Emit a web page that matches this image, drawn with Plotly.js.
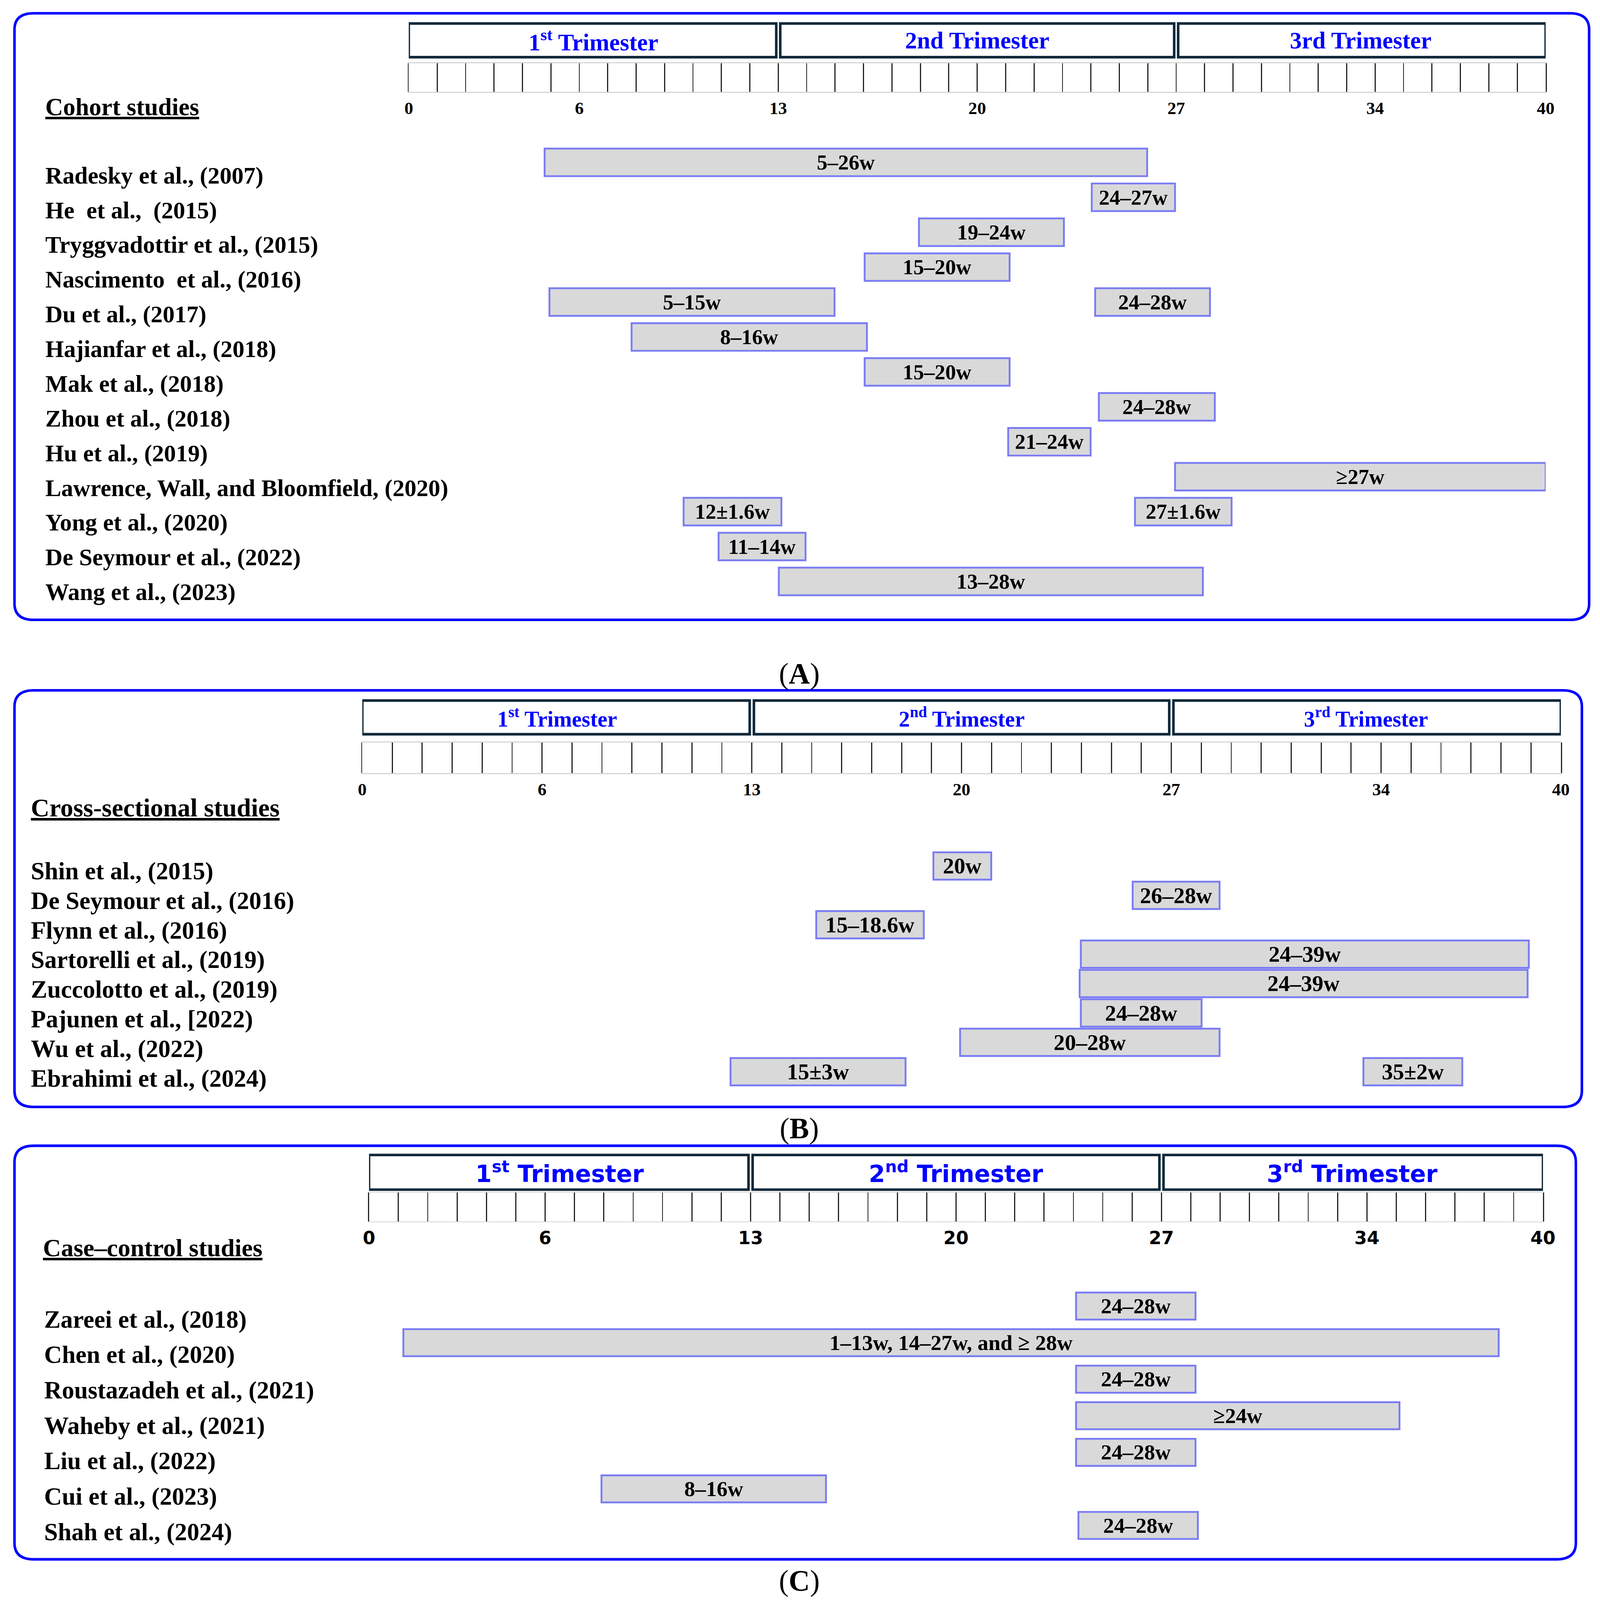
<!DOCTYPE html>
<html>
<head>
<meta charset="utf-8">
<script src="https://cdn.plot.ly/plotly-3.0.1.min.js"></script>
<style>html,body{margin:0;padding:0;background:#fff;overflow:hidden;}#chart{position:absolute;left:0;top:0;}</style>
</head>
<body>
<div id="chart"></div>
<script>
// ---------------- DATA ----------------
const TICK_VALS = [0, 6, 13, 20, 27, 34, 40];
const TICK_TEXT = ['0', '6', '13', '20', '27', '34', '40'];
const TRI_START = [0, 13, 27];
const TRI_END = [13, 27, 40];
const TRI_A = ['1<sup>st</sup> Trimester', '2nd Trimester', '3rd Trimester'];
const TRI_B = ['1<sup>st</sup> Trimester', '2<sup>nd</sup> Trimester', '3<sup>rd</sup> Trimester'];
const TRI_C = ['1<sup>st</sup> Trimester', '2<sup>nd</sup> Trimester', '3<sup>rd</sup> Trimester'];

// Panel A – cohort studies
const A_STUDIES = ['Radesky et al., (2007)', 'He\u00a0 et al.,\u00a0 (2015)', 'Tryggvadottir et al., (2015)',
  'Nascimento\u00a0 et al., (2016)', 'Du et al., (2017)', 'Hajianfar et al., (2018)', 'Mak et al., (2018)',
  'Zhou et al., (2018)', 'Hu et al., (2019)', 'Lawrence, Wall, and Bloomfield, (2020)', 'Yong et al., (2020)',
  'De Seymour et al., (2022)', 'Wang et al., (2023)'];
const A_ROW   = [0, 1, 2, 3, 4, 4, 5, 6, 7, 8, 9, 10, 10, 11, 12];
const A_START = [4.78, 24.03, 17.95, 16.04, 4.95, 24.15, 7.84, 16.04, 24.28, 21.09, 26.96, 9.67, 25.55, 10.9, 13.02];
const A_END   = [25.98, 26.96, 23.05, 21.14, 14.98, 28.19, 16.12, 21.14, 28.36, 23.99, 40.0, 13.11, 28.95, 13.96, 27.94];
const A_LABEL = ['5–26w', '24–27w', '19–24w', '15–20w', '5–15w', '24–28w', '8–16w', '15–20w', '24–28w', '21–24w',
  '≥27w', '12±1.6w', '27±1.6w', '11–14w', '13–28w'];

// Panel B – cross-sectional studies
const B_STUDIES = ['Shin et al., (2015)', 'De Seymour et al., (2016)', 'Flynn et al., (2016)', 'Sartorelli et al., (2019)',
  'Zuccolotto et al., (2019)', 'Pajunen et al., [2022)', 'Wu et al., (2022)', 'Ebrahimi et al., (2024)'];
const B_ROW   = [0, 1, 2, 3, 4, 5, 6, 7, 7];
const B_START = [19.06, 25.71, 15.15, 23.98, 23.94, 23.98, 19.95, 12.29, 33.41];
const B_END   = [20.99, 28.61, 18.74, 38.93, 38.89, 28.01, 28.61, 18.13, 36.71];
const B_LABEL = ['20w', '26–28w', '15–18.6w', '24–39w', '24–39w', '24–28w', '20–28w', '15±3w', '35±2w'];

// Panel C – case–control studies
const C_STUDIES = ['Zareei et al., (2018)', 'Chen et al., (2020)', 'Roustazadeh et al., (2021)', 'Waheby et al., (2021)',
  'Liu et al., (2022)', 'Cui et al., (2023)', 'Shah et al., (2024)'];
const C_ROW   = [0, 1, 2, 3, 4, 5, 6];
const C_START = [24.09, 1.17, 24.09, 24.09, 24.09, 7.92, 24.17];
const C_END   = [28.16, 38.49, 28.16, 35.11, 28.16, 15.57, 28.24];
const C_LABEL = ['24–28w', '1–13w, 14–27w, and ≥ 28w', '24–28w', '≥24w', '24–28w', '8–16w', '24–28w'];

// ---------------- LAYOUT HELPERS ----------------
const W = window.innerWidth || 4356, H = window.innerHeight || 5151;
const F = W / 4356;            // font / line scale
const DW = 1325, DH = 1325 * 5151 / 4356;   // reference units
const px = v => v / DW;
const py = v => 1 - v / DH;
const z = v => v * F;

const SERIF = 'Liberation Serif, DejaVu Serif, serif';
const SANS = 'DejaVu Sans, Verdana, sans-serif';
const BLUE = '#0000ff';
const NAVY = '#10293a';

const panels = [
  {id: 'A', studies: A_STUDIES, row: A_ROW, start: A_START, end: A_END, label: A_LABEL, tri: TRI_A,
   xdom: [338.5, 1280], ruler: [62, 90], bars: [141.9, 586.5], barW: 0.79,
   triY: [23, 56], triFont: {family: SERIF, size: 65, color: BLUE, weight: 'bold'},
   tickFont: {family: SERIF, size: 48, color: '#000', weight: 'bold'}, standoff: 9,
   labX: 37, labTop: 172, labStep: 34.0, labFont: 65, barFont: 58,
   heading: 'Cohort studies', headX: 37, headY: 105, headSize: 67,
   box: [12, 13, 1316, 607], cap: 'A', capY: 660},
  {id: 'B', studies: B_STUDIES, row: B_ROW, start: B_START, end: B_END, label: B_LABEL, tri: TRI_B,
   xdom: [300, 1292.6], ruler: [727, 757], bars: [833.6, 1063.9], barW: 0.93,
   triY: [686, 719], triFont: {family: SERIF, size: 60, color: BLUE, weight: 'bold'},
   tickFont: {family: SERIF, size: 48, color: '#000', weight: 'bold'}, standoff: 9,
   labX: 25, labTop: 853, labStep: 29.0, labFont: 67, barFont: 61,
   heading: 'Cross-sectional studies', headX: 25, headY: 791, headSize: 70,
   box: [12, 676, 1310, 1084], cap: 'B', capY: 1105},
  {id: 'C', studies: C_STUDIES, row: C_ROW, start: C_START, end: C_END, label: C_LABEL, tri: TRI_C,
   xdom: [305.6, 1277.8], ruler: [1168, 1196], bars: [1261.1, 1511.7], barW: 0.74,
   triY: [1131, 1165], triFont: {family: SANS, size: 64, color: BLUE, weight: 'bold'},
   tickFont: {family: SANS, size: 49, color: '#000', weight: 'bold'}, standoff: 44,
   labX: 36, labTop: 1292, labStep: 34.7, labFont: 67, barFont: 59,
   heading: 'Case–control studies', headX: 35, headY: 1222, headSize: 68,
   box: [12, 1122, 1305, 1527], cap: 'C', capY: 1548}
];

const data = [];
const layout = {
  width: W, height: H, margin: {l: 0, r: 0, t: 0, b: 0},
  paper_bgcolor: '#fff', plot_bgcolor: 'rgba(0,0,0,0)',
  showlegend: false, annotations: [], shapes: [],
  font: {family: SERIF, color: '#000'}
};

const sized = f => Object.assign({}, f, {size: z(f.size)});

panels.forEach((p, k) => {
  const rn = 2 * k + 1, bn = 2 * k + 2;
  const rx = rn === 1 ? 'x' : 'x' + rn, ry = rn === 1 ? 'y' : 'y' + rn;
  const bx = 'x' + bn, by = 'y' + bn;
  const nRows = p.studies.length;

  // ruler subplot (weekly scale)
  layout[rn === 1 ? 'xaxis' : 'xaxis' + rn] = {
    domain: [px(p.xdom[0]), px(p.xdom[1])], range: [0, 40], anchor: ry,
    tickmode: 'array', tickvals: TICK_VALS, ticktext: TICK_TEXT, ticks: '',
    showgrid: true, gridcolor: '#222', gridwidth: z(3),
    minor: {tickmode: 'linear', tick0: 0, dtick: 1, showgrid: true, gridcolor: '#222', gridwidth: z(3), ticks: ''},
    showline: true, linecolor: '#d6d6d6', linewidth: z(3), mirror: true, zeroline: false,
    tickfont: sized(p.tickFont), ticklabelstandoff: z(p.standoff), fixedrange: true
  };
  layout[rn === 1 ? 'yaxis' : 'yaxis' + rn] = {
    domain: [py(p.ruler[1]), py(p.ruler[0])], range: [0, 1], anchor: rx,
    showline: true, linecolor: '#222', linewidth: z(3), mirror: true,
    showgrid: false, zeroline: false, showticklabels: false, ticks: '', fixedrange: true
  };
  data.push({type: 'scatter', x: TICK_VALS, y: TICK_VALS.map(() => 0.5), mode: 'markers',
    marker: {opacity: 0}, xaxis: rx, yaxis: ry, hoverinfo: 'skip'});

  // bars subplot
  layout['xaxis' + bn] = {domain: [px(p.xdom[0]), px(p.xdom[1])], range: [0, 40], anchor: by, visible: false, fixedrange: true};
  layout['yaxis' + bn] = {domain: [py(p.bars[1]), py(p.bars[0])], range: [nRows - 0.5, -0.5], anchor: bx, visible: false, fixedrange: true};
  data.push({
    type: 'bar', orientation: 'h', xaxis: bx, yaxis: by,
    y: p.row, base: p.start, x: p.end.map((e, i) => e - p.start[i]),
    width: p.barW, text: p.label, textposition: 'inside', insidetextanchor: 'middle',
    textangle: 0, constraintext: 'none', cliponaxis: false,
    textfont: {family: SERIF, size: z(p.barFont), color: '#000', weight: 'bold'},
    marker: {color: '#d9d9d9', line: {color: '#7a7cf4', width: z(5)}},
    hoverinfo: 'skip'
  });

  // trimester boxes + titles
  TRI_START.forEach((s, i) => {
    const g = 0.07;
    layout.shapes.push({type: 'rect', xref: rx, yref: 'paper', x0: s + (i ? g : 0), x1: TRI_END[i] - (i < 2 ? g : 0),
      y0: py(p.triY[1]), y1: py(p.triY[0]), line: {color: NAVY, width: z(7)}, fillcolor: 'rgba(0,0,0,0)'});
    layout.annotations.push({xref: rx, yref: 'paper', x: (s + TRI_END[i]) / 2, y: py((p.triY[0] + p.triY[1]) / 2),
      xanchor: 'center', yanchor: 'middle', showarrow: false, text: p.tri[i], font: sized(p.triFont)});
  });

  // study labels
  p.studies.forEach((s, i) => {
    layout.annotations.push({xref: 'paper', yref: 'paper', x: px(p.labX), y: py(p.labTop + i * p.labStep),
      xanchor: 'left', yanchor: 'middle', showarrow: false, text: s,
      font: {family: SERIF, size: z(p.labFont), color: '#000', weight: 'bold'}});
  });

  // heading
  layout.annotations.push({xref: 'paper', yref: 'paper', x: px(p.headX), y: py(p.headY),
    xanchor: 'left', yanchor: 'middle', showarrow: false, text: p.heading,
    font: {family: SERIF, size: z(p.headSize), color: '#000', weight: 'bold', lineposition: 'under'}});

  // caption
  layout.annotations.push({xref: 'paper', yref: 'paper', x: px(662), y: py(p.capY),
    xanchor: 'center', yanchor: 'middle', showarrow: false, text: '(<b>' + p.cap + '</b>)',
    font: {family: SERIF, size: z(80), color: '#000'}});

  // rounded panel frame
  const x0 = px(p.box[0]), x1 = px(p.box[2]), yT = py(p.box[1]), yB = py(p.box[3]);
  const rX = px(16), rY = 16 / DH;
  const path = `M ${x0 + rX},${yT} L ${x1 - rX},${yT} Q ${x1},${yT} ${x1},${yT - rY} L ${x1},${yB + rY} ` +
    `Q ${x1},${yB} ${x1 - rX},${yB} L ${x0 + rX},${yB} Q ${x0},${yB} ${x0},${yB + rY} L ${x0},${yT - rY} ` +
    `Q ${x0},${yT} ${x0 + rX},${yT} Z`;
  layout.shapes.push({type: 'path', xref: 'paper', yref: 'paper', path: path, line: {color: BLUE, width: z(7)}});
});

Plotly.newPlot('chart', data, layout, {staticPlot: true, displayModeBar: false});
</script>
</body>
</html>
